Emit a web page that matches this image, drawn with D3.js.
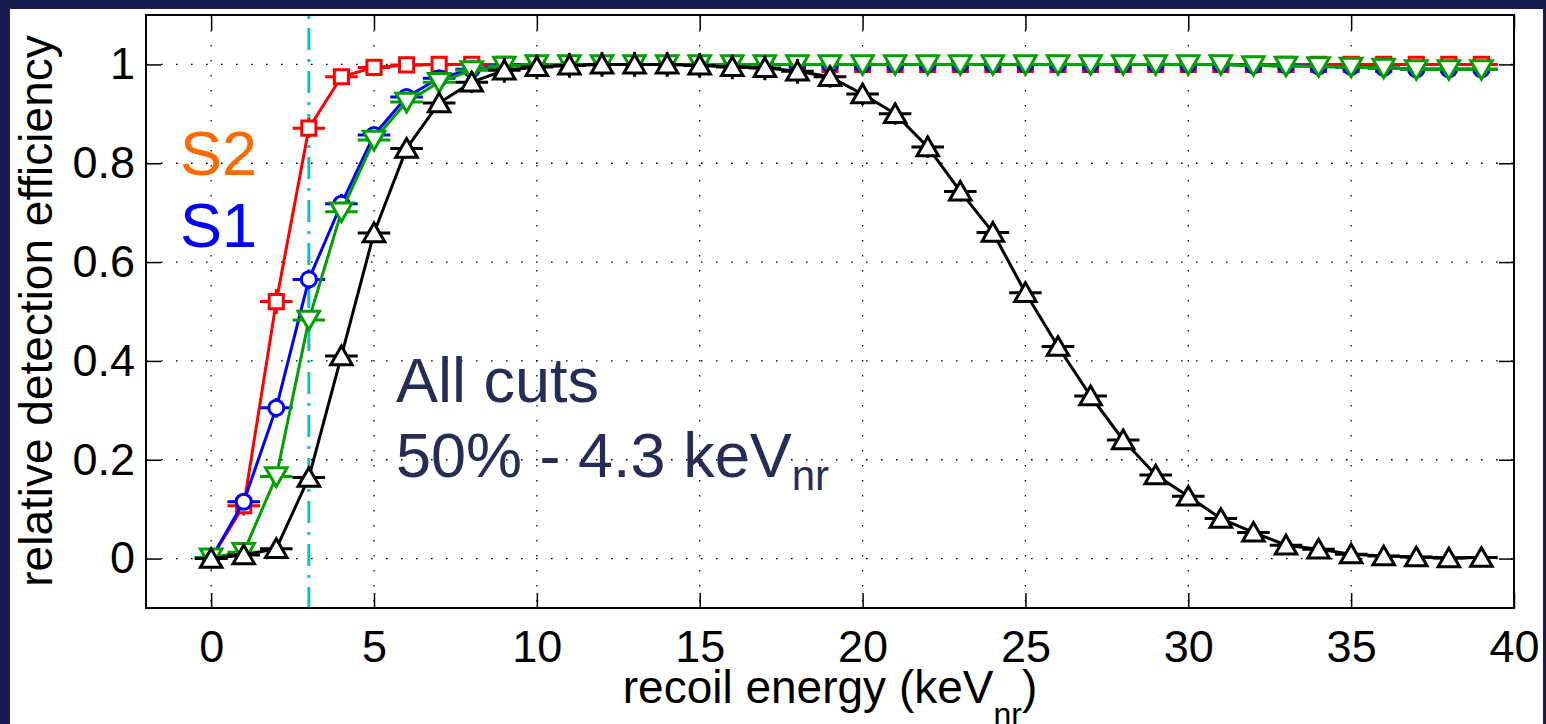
<!DOCTYPE html>
<html>
<head>
<meta charset="utf-8">
<script src="https://cdn.jsdelivr.net/npm/d3@7"></script>
<style>
  body { margin: 0; padding: 0; background: #171d4e; }
  svg { display: block; font-family: "Liberation Sans", Arial, Helvetica, sans-serif; }
</style>
</head>
<body>
<script>
var w = 1546;
var h = 724;

// recoil energy bins (keVnr)
var energy = [0, 1, 2, 3, 4, 5, 6, 7, 8, 9, 10, 11, 12, 13, 14, 15, 16, 17, 18, 19,
  20, 21, 22, 23, 24, 25, 26, 27, 28, 29, 30, 31, 32, 33, 34, 35, 36, 37, 38, 39];

// S2 (red squares)
var s2Eff = [0, 0.107, 0.52, 0.871, 0.975, 0.994, 0.999, 1, 1, 1, 1, 1, 1, 1, 1, 1, 1, 1, 1, 1,
  1, 1, 1, 1, 1, 1, 1, 1, 1, 1, 1, 1, 1, 1, 1, 1, 1, 1, 1, 1];
var s2Err = [0.005, 0.02, 0.025, 0.02, 0.015, 0.01, 0.01, 0.01, 0.01, 0.01, 0.01, 0.01, 0.01, 0.01, 0.01, 0.01, 0.01, 0.01, 0.01, 0.01,
  0.01, 0.01, 0.01, 0.01, 0.01, 0.01, 0.01, 0.01, 0.01, 0.01, 0.01, 0.01, 0.01, 0.01, 0.01, 0.01, 0.01, 0.01, 0.01, 0.01];

// S1 (blue circles)
var s1Eff = [0, 0.115, 0.305, 0.565, 0.718, 0.857, 0.934, 0.972, 0.99, 0.998, 1, 1, 1, 1, 1, 1, 1, 1, 1, 1,
  1, 1, 1, 1, 1, 1, 1, 1, 1, 1, 1, 1, 0.998, 0.998, 0.996, 0.995, 0.993, 0.99, 0.99, 0.99];
var s1Err = [0.005, 0.015, 0.02, 0.02, 0.02, 0.015, 0.015, 0.012, 0.012, 0.012, 0.012, 0.012, 0.012, 0.012, 0.012, 0.012, 0.012, 0.012, 0.012, 0.012,
  0.012, 0.012, 0.012, 0.012, 0.012, 0.012, 0.012, 0.012, 0.012, 0.012, 0.012, 0.012, 0.012, 0.012, 0.012, 0.012, 0.012, 0.012, 0.012, 0.012];

// third cut (green down-triangles)
var cutEff = [0.002, 0.013, 0.166, 0.483, 0.702, 0.847, 0.924, 0.964, 0.988, 0.997, 1, 1, 1, 1, 1, 1, 1, 1, 1, 1,
  1, 1, 1, 1, 1, 1, 1, 1, 1, 1, 1, 1, 0.998, 0.997, 0.996, 0.995, 0.993, 0.99, 0.99, 0.99];
var cutErr = [0.005, 0.01, 0.015, 0.02, 0.02, 0.015, 0.015, 0.012, 0.012, 0.012, 0.012, 0.012, 0.012, 0.012, 0.012, 0.012, 0.012, 0.012, 0.012, 0.012,
  0.012, 0.012, 0.012, 0.012, 0.012, 0.012, 0.012, 0.012, 0.012, 0.012, 0.012, 0.012, 0.012, 0.012, 0.012, 0.012, 0.012, 0.012, 0.012, 0.012];

// all cuts (black up-triangles)
var allEff = [0, 0.007, 0.02, 0.164, 0.41, 0.659, 0.83, 0.922, 0.964, 0.988, 0.995, 0.998, 1, 1, 1, 0.998, 0.995, 0.993, 0.986, 0.975,
  0.94, 0.9, 0.833, 0.743, 0.66, 0.538, 0.429, 0.329, 0.24, 0.169, 0.126, 0.081, 0.053, 0.027, 0.019, 0.009, 0.005, 0.003, 0.001, 0.002];
var allErr = [0.005, 0.008, 0.01, 0.015, 0.02, 0.02, 0.02, 0.02, 0.022, 0.025, 0.025, 0.025, 0.025, 0.025, 0.025, 0.025, 0.025, 0.025, 0.025, 0.022,
  0.022, 0.022, 0.022, 0.02, 0.018, 0.016, 0.015, 0.014, 0.012, 0.01, 0.01, 0.008, 0.007, 0.006, 0.005, 0.004, 0.003, 0.003, 0.002, 0.002];

var binHalf = 0.5;
var threshold = 3;

var xTicks = [0, 5, 10, 15, 20, 25, 30, 35, 40];
var yTicks = [0, 0.2, 0.4, 0.6, 0.8, 1];

var series = [
  { name: 'S2', eff: s2Eff, err: s2Err, color: '#ff0000', marker: 'square' },
  { name: 'S1', eff: s1Eff, err: s1Err, color: '#0000ff', marker: 'circle' },
  { name: 'cut', eff: cutEff, err: cutErr, color: '#00a000', marker: 'tridown' },
  { name: 'all', eff: allEff, err: allErr, color: '#000000', marker: 'triup' }
];

var plotL = 146, plotT = 15, plotR = 1514, plotB = 608;

var svg = d3.select("body").append("svg")
  .attr("width", w)
  .attr("height", h);

svg.append('rect').attr('width', w).attr('height', h).attr('fill', '#171d4e');
svg.append('rect').attr('x', 10).attr('y', 9).attr('width', 1533).attr('height', h - 9).attr('fill', '#ffffff');

var x = d3.scaleLinear().domain([-2, 40]).range([plotL, plotR]);
var y = d3.scaleLinear().domain([-0.1, 1.1]).range([plotB, plotT]);

// grid
var grid = svg.append('g');
grid.selectAll('.gx')
  .data(xTicks.filter(function (d) { return d > -2 && d < 40; }))
  .join('line')
  .attr('x1', function (d) { return x(d); })
  .attr('x2', function (d) { return x(d); })
  .attr('y1', plotT).attr('y2', plotB)
  .attr('stroke', '#000').attr('stroke-width', 1.3)
  .attr('stroke-dasharray', '1.6,13.4');
grid.selectAll('.gy')
  .data(yTicks)
  .join('line')
  .attr('x1', plotL).attr('x2', plotR)
  .attr('y1', function (d) { return y(d); })
  .attr('y2', function (d) { return y(d); })
  .attr('stroke', '#000').attr('stroke-width', 1.3)
  .attr('stroke-dasharray', '1.6,13.4');

// threshold line
svg.append('line')
  .attr('x1', x(threshold)).attr('x2', x(threshold))
  .attr('y1', plotT).attr('y2', plotB)
  .attr('stroke', '#19bdbd').attr('stroke-width', 3)
  .attr('stroke-dasharray', '22,9,3,9')
  .attr('stroke-dashoffset', -13);

// axes: bottom/left with labels, top/right ticks only
var tickLen = 15;
var xAxis = svg.append('g').attr('transform', 'translate(0,' + plotB + ')')
  .call(d3.axisBottom(x).tickValues(xTicks).tickSizeInner(-tickLen).tickSizeOuter(0).tickPadding(22));
var yAxis = svg.append('g').attr('transform', 'translate(' + plotL + ',0)')
  .call(d3.axisLeft(y).tickValues(yTicks).tickFormat(d3.format('~g')).tickSizeInner(-tickLen).tickSizeOuter(0).tickPadding(11));
var xAxisTop = svg.append('g').attr('transform', 'translate(0,' + plotT + ')')
  .call(d3.axisTop(x).tickValues(xTicks).tickSizeInner(-tickLen).tickSizeOuter(0).tickFormat(''));
var yAxisRight = svg.append('g').attr('transform', 'translate(' + plotR + ',0)')
  .call(d3.axisRight(y).tickValues(yTicks).tickSizeInner(-tickLen).tickSizeOuter(0).tickFormat(''));

[xAxis, yAxis, xAxisTop, yAxisRight].forEach(function (a) {
  a.select('.domain').remove();
  a.selectAll('.tick line').attr('stroke', '#000').attr('stroke-width', 1.5);
  a.selectAll('text').attr('font-size', 45).attr('fill', '#000')
    .attr('font-family', '"Liberation Sans", Arial, sans-serif');
});
xAxis.selectAll('text').attr('dy', '0.71em');

svg.append('rect')
  .attr('x', plotL).attr('y', plotT)
  .attr('width', plotR - plotL).attr('height', plotB - plotT)
  .attr('fill', 'none').attr('stroke', '#000').attr('stroke-width', 2);

// series
var sym = {
  square: d3.symbol().type(d3.symbolSquare).size(200),
  circle: d3.symbol().type(d3.symbolCircle).size(180),
  triup: d3.symbol().type(d3.symbolTriangle).size(200),
  tridown: d3.symbol().type(d3.symbolTriangle).size(200)
};

var line = d3.line()
  .x(function (d) { return x(d.e); })
  .y(function (d) { return y(d.v); });

var lw = 3;

series.forEach(function (s) {
  var pts = energy.map(function (e, i) { return { e: e, v: s.eff[i], err: s.err[i] }; });
  var g = svg.append('g').attr('class', 'series-' + s.name);

  g.selectAll('.hbar').data(pts).join('line')
    .attr('x1', function (d) { return x(d.e - binHalf); })
    .attr('x2', function (d) { return x(d.e + binHalf); })
    .attr('y1', function (d) { return y(d.v); })
    .attr('y2', function (d) { return y(d.v); })
    .attr('stroke', s.color).attr('stroke-width', lw);
  g.selectAll('.vbar').data(pts).join('line')
    .attr('x1', function (d) { return x(d.e); })
    .attr('x2', function (d) { return x(d.e); })
    .attr('y1', function (d) { return y(d.v - d.err); })
    .attr('y2', function (d) { return y(d.v + d.err); })
    .attr('stroke', s.color).attr('stroke-width', lw);

  g.append('path').datum(pts)
    .attr('d', line)
    .attr('fill', 'none')
    .attr('stroke', s.color).attr('stroke-width', lw)
    .attr('stroke-linejoin', 'round');

  g.selectAll('.mk').data(pts).join('path')
    .attr('d', sym[s.marker])
    .attr('transform', function (d) {
      var t = 'translate(' + x(d.e) + ',' + y(d.v) + ')';
      if (s.marker === 'tridown') t += ' rotate(180)';
      if (s.marker === 'triup' || s.marker === 'tridown') t += ' translate(0,2.5)';
      return t;
    })
    .attr('fill', '#fff')
    .attr('stroke', s.color).attr('stroke-width', lw);
});

// labels
svg.append('text')
  .attr('transform', 'translate(52,311) rotate(-90)')
  .attr('text-anchor', 'middle')
  .attr('font-size', 46)
  .text('relative detection efficiency');

var xl = svg.append('text')
  .attr('x', (plotL + plotR) / 2)
  .attr('y', 703)
  .attr('text-anchor', 'middle')
  .attr('font-size', 46);
xl.append('tspan').text('recoil energy (keV');
xl.append('tspan').attr('font-size', 32).attr('dy', 22).text('nr');
xl.append('tspan').attr('dy', -22).text(')');

svg.append('text').attr('x', 180).attr('y', 175)
  .attr('font-size', 63).attr('fill', '#ff6a00').text('S2');
svg.append('text').attr('x', 180).attr('y', 247)
  .attr('font-size', 63).attr('fill', '#0000ff').text('S1');

svg.append('text').attr('x', 396).attr('y', 402)
  .attr('font-size', 63).attr('fill', '#272c57').text('All cuts');
var note = svg.append('text').attr('x', 396).attr('y', 477)
  .attr('font-size', 63).attr('fill', '#272c57');
note.append('tspan').text('50% - 4.3 keV');
note.append('tspan').attr('font-size', 42).attr('dy', 13).text('nr');
</script>
</body>
</html>
